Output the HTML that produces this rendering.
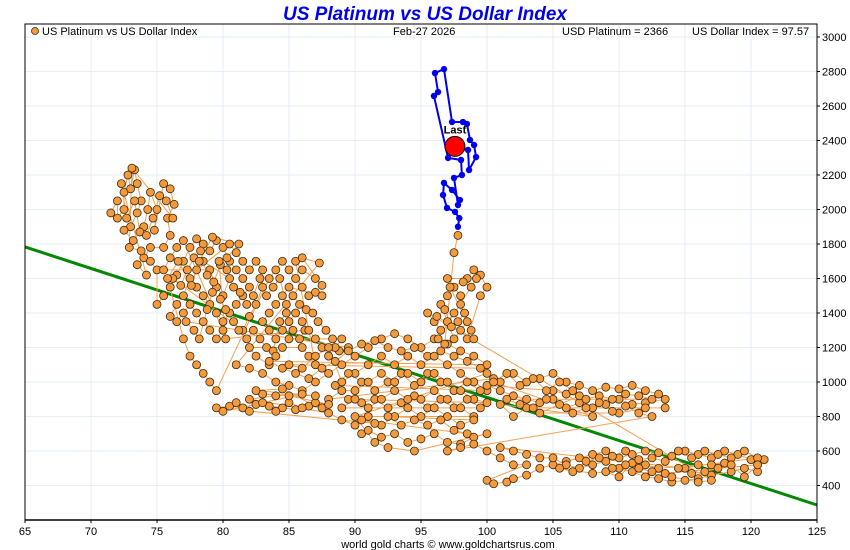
<!DOCTYPE html>
<html><head><meta charset="utf-8"><style>
body{margin:0;background:#fff;}
svg{display:block;font-family:"Liberation Sans",sans-serif;}
</style></head><body>
<svg id="chart" width="850" height="550" xmlns="http://www.w3.org/2000/svg">
<rect width="850" height="550" fill="#fff"/>
<text x="425" y="20" text-anchor="middle" font-size="19" font-weight="bold" font-style="italic" fill="#0000ee">US Platinum vs US Dollar Index</text>
<g id="grid"></g>
<g id="trend"></g>
<g id="orange"></g>
<g id="blue"></g>
<g id="axes"></g>
<g>
<circle cx="35" cy="31" r="3.5" fill="#f59a3c" stroke="#3a2a10" stroke-width="0.8"/>
<text x="42" y="35" font-size="11">US Platinum vs US Dollar Index</text>
<text x="393" y="35" font-size="11">Feb-27  2026</text>
<text x="562" y="35" font-size="11">USD Platinum = 2366</text>
<text x="692" y="35" font-size="11">US Dollar Index = 97.57</text>
</g>
<text x="448" y="548" text-anchor="middle" font-size="11">world gold charts © www.goldchartsrus.com</text>
</svg>
<script>
const xTicks=[65,70,75,80,85,90,95,100,105,110,115,120,125];
const yTicks=[400,600,800,1000,1200,1400,1600,1800,2000,2200,2400,2600,2800,3000];
const trendStart=[65,1783];
const trendEnd=[125,287];
const orangePts=[
71.5,1980,72,2050,72,1950,72.5,2000,72.5,2100,72.8,2200,73,2120,73.3,2230,73.5,2150,73.8,2050,73.5,1980,73,1900,72.5,1880,73.2,1820,74,1900,74.3,2000,74.5,2100,75,2000,74.8,1880,75.5,2150,76,2120,76.3,2030,75.8,1950,76,1850,75.5,1780,74.5,1780,74,1720,73.5,1680,74.2,1620,
72.3,2150,72.7,1950,73.3,2050,73.7,1870,74.2,1850,74.7,1950,75.2,2080,75.7,2050,76.2,1950,73.1,2240,72.9,1780,73.8,1760,74.5,1700,75,1650,
75,1450,75.5,1500,76,1550,76.5,1620,77,1700,77.5,1780,78,1830,78.5,1800,79,1760,79.5,1820,80,1780,80.5,1700,81,1650,81.5,1600,82,1550,81.5,1500,81,1450,80.5,1400,80,1350,79.5,1400,79,1450,78.5,1500,78,1550,77.5,1600,77,1500,76.5,1450,76,1380,76.5,1350,77,1400,77.5,1450,78,1400,78.5,1350,79,1300,79.5,1250,80,1300,77,1820,76.5,1780,76,1720,75.5,1650,79,1650,79.5,1550,80,1500,80.5,1600,78.5,1700,78,1650,80.5,1800,81,1750,81.5,1700,82,1650,82.5,1700,83,1650,83,1550,82.5,1450,82,1380,81.5,1300,
76.2,1600,76.8,1560,77.3,1650,77.8,1720,78.3,1760,78.8,1620,79.3,1580,79.8,1680,80.3,1650,80.8,1550,81.3,1520,81.8,1450,82.3,1500,82.8,1600,83.3,1500,83.8,1550,84.3,1600,84.8,1450,85.3,1500,85.8,1450,86.3,1420,86.8,1400,87.2,1350,87.8,1300,88.3,1250,88.8,1180,89.5,1200,77.2,1350,77.8,1300,78.2,1250,78.8,1420,79.2,1520,79.8,1480,80.2,1420,80.8,1350,81.2,1300,81.8,1250,82.3,1300,82.8,1250,83.3,1200,83.8,1180,84.3,1350,84.8,1400,85.3,1300,85.8,1250,86.2,1300,80.2,1250,79.7,1700,80.3,1720,81.2,1800,79.2,1840,78.2,1700,77.6,1560,76.6,1700,75.8,1600,
77,1250,77.5,1150,78,1100,78.5,1050,79,1000,79.5,950,
83.5,1600,84,1650,84.5,1700,85,1650,85.5,1600,86,1550,86.5,1500,87,1520,87.5,1500,85,1550,84.5,1500,84,1450,83.5,1400,83,1350,83.5,1300,84,1250,84.5,1300,85,1350,85.5,1400,86,1350,86.5,1300,87,1250,87.5,1200,88,1150,88.5,1200,89,1250,85,1250,84.5,1200,84,1150,83.5,1100,82.5,1150,82,1200,86,1200,86.5,1150,87,1100,85.5,1700,86,1650,87,1600,87.5,1560,86,1720,87.3,1690,
81,1100,82,1080,83,1050,84,1000,85,980,86,950,87,1000,88,1050,89,1100,90,1150,91,1200,92,1250,93,1280,94,1250,95,1200,96,1250,97,1220,98,1180,99,1150,100,1100,
83.5,1120,84.5,1080,85.5,1050,86.5,1020,87.5,1080,88.5,1120,89.5,1180,90.5,1220,91.5,1240,92.5,1200,93.5,1180,94.5,1200,95.5,1150,96.5,1180,97.5,1150,98.5,1120,99.5,1080,
85,1100,86,1080,87,1150,88,1200,89,1000,90,1050,91,1100,92,1150,93,1100,94,1150,95,1100,96,1150,97,1100,98,1050,99,1000,100,950,
88.5,980,89.5,1050,90.5,1000,91.5,950,92.5,1000,93.5,1050,94.5,980,95.5,1050,96.5,1000,97.5,950,98.5,1000,99.5,950,100.5,1020,
88,900,89,950,90,950,91,1000,92,1050,93,1000,94,1050,95,1000,96,1050,97,1000,98,950,99,900,100,880,
89.5,900,90.5,880,91.5,900,92.5,850,93.5,880,94.5,920,95.5,850,96.5,900,97.5,850,98.5,900,99.5,850,
89,850,90,900,91,850,92,900,93,950,94,900,95,900,96,950,97,900,98,850,99,800,
91,800,92,750,93,800,94,850,95,800,96,850,97,800,98,750,99,780,
92.5,800,93.5,750,94.5,780,95.5,750,96.5,780,97.5,720,98.5,700,90.5,780,91.5,760,
79.5,850,80.5,860,81.5,850,82.5,870,83.5,860,84.5,850,85.5,840,86.5,860,87.5,850,88,820,82,900,84,920,86,930,
80,830,81,880,82,830,83,880,84,830,85,880,86,850,87,880,88,870,85,920,83,930,87,920,82.5,950,84.5,960,
89,780,90,750,90.5,700,91,720,92,680,93,700,94,650,95,670,96,700,97,650,98,640,99,680,100,700,94.5,600,92.5,620,91.5,650,90,800,
100,1050,101,1000,102,1050,103,1000,104,1020,105,1050,106,1000,107,980,108,950,109,970,110,960,111,980,112,950,113,930,113.5,900,112,880,111,870,110,900,109,870,108,850,107,880,106,850,105,900,104,880,103,900,102,920,101,950,100,980,105,950,106,930,107,920,104,820,110,820,112,850,113.5,850,103,850,102,800,101,870,108,800,
100.5,1000,101.5,1050,102.5,980,103.5,1020,104.5,950,105.5,1000,106.5,950,107.5,900,108.5,920,109.5,900,110.5,930,111.5,920,112.5,900,101.5,900,102.5,870,103.5,850,104.5,900,105.5,870,106.5,820,107.5,850,108.5,880,109.5,830,110.5,860,111.5,820,112.5,800,
97,600,98,620,99,640,100,600,101,560,102,520,103,520,
100,430,100.5,410,101.5,420,102,440,103,460,104,500,105,520,106,540,107,560,108,580,109,600,110,560,111,580,112,600,113,590,114,570,115,600,116,580,117,560,118,600,119,580,120,550,121,550,120.5,480,119.5,500,118.5,480,117,460,116,440,115,430,114,420,113,440,112,450,111,480,110,500,109,540,108,520,107,500,106,520,105,560,104,560,103,580,102,600,101,620,115,500,116,520,117,520,118,530,113,500,112,520,111,530,110,450,109,480,108,470,
105.5,500,106.5,480,107.5,540,108.5,560,109.5,570,110.5,600,111.5,550,112.5,560,113.5,540,114.5,600,115.5,560,116.5,600,117.5,580,118.5,560,119.5,600,120.5,560,114.5,500,115.5,470,116.5,480,117.5,500,118.5,520,119.5,450,120.5,520,113.5,470,112.5,480,111.5,500,110.5,520,109.5,500,114,450,116,420,117,430,
95.5,1400,96,1350,96.5,1300,97,1350,97.5,1400,98,1450,98.5,1350,98,1300,97.5,1250,96.5,1450,97,1500,97.5,1550,98,1500,97,1600,98.5,1600,99,1650,99.5,1620,100,1550,99.5,1500,98.5,1250,99,1250,
96.2,1380,96.8,1420,97.3,1320,97.8,1350,98.3,1400,98.8,1300,97.2,1550,98.2,1580,98.8,1550,99.2,1600,96.3,1250,96.8,1220,
97.5,1750,97.8,1850];
const bluePts=[97.8,1900,97.9,1950,97.58,1986,96.97,2009,96.67,2084,96.74,2154,97.35,2113,97.95,2055,97.8,2026,97.5,2183,98.1,2200,98.03,2287,97.05,2299,95.98,2658,96.29,2681,96.06,2791,96.74,2814,97.35,2507,98.18,2507,98.48,2496,98.71,2403,99.02,2374,99.17,2304,98.64,2229,98.56,2345,97.57,2366];
const lastPoint=[97.57,2366];

const L=25,R=817,T=24,B=520;
const X=v=>L+(v-65)*(R-L)/60;
const Y=v=>B-(v-200)*0.1725;
const NS="http://www.w3.org/2000/svg";
function mk(tag,attrs,parent){const e=document.createElementNS(NS,tag);for(const k in attrs)e.setAttribute(k,attrs[k]);parent.appendChild(e);return e;}
const grid=document.getElementById('grid'),axes=document.getElementById('axes');
xTicks.forEach(t=>{
 const g=mk('line',{x1:X(t),x2:X(t),y1:T,y2:B,stroke:'#e2eef8','stroke-width':1},grid);
 
 
 const tx=mk('text',{x:X(t),y:B+15,'text-anchor':'middle','font-size':11},axes);
 
 
 tx.textContent=t;
 mk('line',{x1:X(t),x2:X(t),y1:B,y2:B+3,stroke:'#000'},axes);
});
yTicks.forEach(t=>{
 const g=mk('line',{x1:L,x2:R,y1:Y(t),y2:Y(t),stroke:'#e2eef8','stroke-width':1},grid);
 
 
 const tx=mk('text',{x:R+5,y:Y(t)+4,'font-size':11},axes);
 
 
 tx.textContent=t;
 mk('line',{x1:R,x2:R+3,y1:Y(t),y2:Y(t),stroke:'#000'},axes);
});
mk('rect',{x:L,y:T,width:R-L,height:B-T,fill:'none',stroke:'#000','stroke-width':1},axes);
mk('line',{x1:L,x2:R,y1:B,y2:B,stroke:'#000','stroke-width':1.5},axes);
const trend=document.getElementById('trend');
const tl=mk('line',{x1:X(trendStart[0]),y1:Y(trendStart[1]),x2:X(trendEnd[0]),y2:Y(trendEnd[1]),stroke:'#008800','stroke-width':3},trend);


const og=document.getElementById('orange');
let d='';for(let i=0;i<orangePts.length;i+=2)d+=(i?'L':'M')+X(orangePts[i])+' '+Y(orangePts[i+1]);
mk('path',{d:d,fill:'none',stroke:'#f4a050','stroke-width':1},og);
for(let i=0;i<orangePts.length;i+=2){
 const c=mk('circle',{cx:X(orangePts[i]),cy:Y(orangePts[i+1]),r:4,fill:'#f59a3c',stroke:'#3a2a10','stroke-width':0.8},og);
 
 
}
const bg=document.getElementById('blue');
let d2='';for(let i=0;i<bluePts.length;i+=2)d2+=(i?'L':'M')+X(bluePts[i])+' '+Y(bluePts[i+1]);
mk('path',{d:d2,fill:'none',stroke:'#0000ee','stroke-width':2},bg);
for(let i=0;i<bluePts.length;i+=2){
 const c=mk('circle',{cx:X(bluePts[i]),cy:Y(bluePts[i+1]),r:3.2,fill:'#0000ee'},bg);
 
 
}
const lp=mk('circle',{cx:X(lastPoint[0]),cy:Y(lastPoint[1]),r:10,fill:'#ff0000',stroke:'#000','stroke-width':1},bg);


const lt=mk('text',{x:X(lastPoint[0]),y:Y(lastPoint[1])-13,'text-anchor':'middle','font-size':11,'font-weight':'bold'},bg);


lt.textContent='Last';
</script>
</body></html>
